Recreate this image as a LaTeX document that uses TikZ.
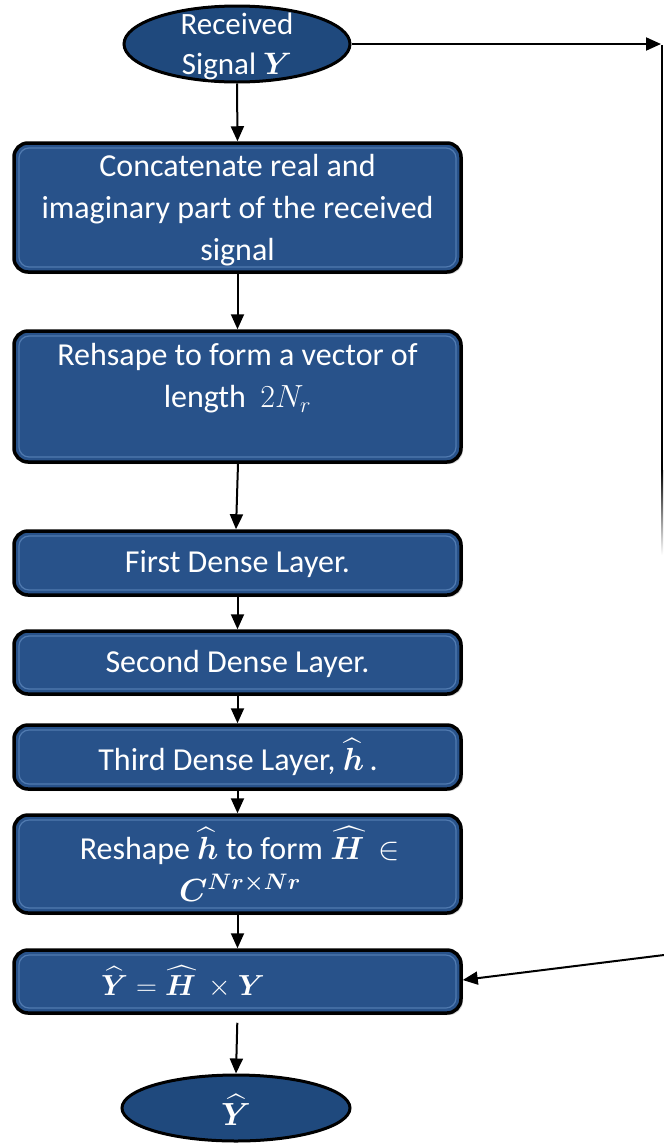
\RequirePackage{fix-cm}
\documentclass[tikz,border=0pt]{standalone}
\usepackage{amsmath,amssymb,bm}
\usepackage{fontspec}
\setmainfont{Carlito}
\usetikzlibrary{arrows.meta,shapes.geometric,shadows,fadings}

\definecolor{boxblue}{RGB}{40,82,138}
\definecolor{bevelblue}{RGB}{80,122,176}
\definecolor{ovalblue}{RGB}{31,73,125}

\tikzset{
  txt/.style={text=white,font=\fontsize{32}{42}\selectfont,align=center,inner sep=0pt},
  stepbox/.style={draw=black,line width=3.5pt,fill=boxblue,rounded corners=14pt,
    minimum width=447pt,inner sep=0pt,
    drop shadow={shadow xshift=2pt,shadow yshift=-2pt,opacity=0.35},
    path picture={\draw[bevelblue,line width=1.2pt,rounded corners=10pt]
      ([shift={(5pt,-5pt)}]path picture bounding box.north west) rectangle
      ([shift={(-5pt,5pt)}]path picture bounding box.south east);}},
  oval/.style={ellipse,draw=black,line width=3pt,fill=ovalblue,inner sep=0pt},
  conn/.style={draw=black,line width=2pt,-{Triangle[length=15pt,width=13pt]}},
  wire/.style={draw=black,line width=2pt}
}

\begin{document}
\begin{tikzpicture}[x=1pt,y=-1pt]
\useasboundingbox (0,0) rectangle (664,1144);

% terminals
\node[oval,minimum width=226pt,minimum height=76pt] (in) at (237,44) {};
\node[txt,font=\fontsize{31}{40}\selectfont] (intxt) at (237,46) {Received\\Signal $\bm{Y}$};

\node[oval,minimum width=228pt,minimum height=66pt] (out) at (236,1108) {};
\node[txt] (outtxt) at (236,1110) {$\bm{\widehat{Y}}$};

% processing steps
\node[stepbox,minimum height=129pt] (b1) at (237.5,207.5) {};
\node[txt] (t1) at (237.5,210) {Concatenate real and\\imaginary part of the received\\signal};

\node[stepbox,minimum height=131pt] (b2) at (237.5,396.5) {};
\node[txt] (t2) at (237.5,378) {Rehsape to form a vector of\\length\ \ $2N_r$};

\node[stepbox,minimum height=64pt] (b3) at (237.5,563) {};
\node[txt] (t3) at (237.5,564) {First Dense Layer.};

\node[stepbox,minimum height=63pt] (b4) at (237.5,662.5) {};
\node[txt] (t4) at (237.5,664) {Second Dense Layer.};

\node[stepbox,minimum height=64pt] (b5) at (237.5,757) {};
\node[txt] (t5) at (238,757) {Third Dense Layer, $\bm{\widehat{h}}$\,.};

\node[stepbox,minimum height=98pt] (b6) at (237.5,864) {};
\node[txt] (t6) at (240,864) {Reshape $\bm{\widehat{h}}$ to form $\bm{\widehat{H}}$\ \ $\in$\\$\bm{C^{Nr\times Nr}}$};

\node[stepbox,minimum height=63pt] (b7) at (237.5,981.5) {};
\node[txt,font=\fontsize{29}{40}\selectfont] (t7) at (183,982) {$\bm{\widehat{Y}} = \bm{\widehat{H}}\ \times \bm{Y}$};

% main flow
\draw[conn] (in.south) -- (b1.north);
\draw[conn] (b1.south) -- (b2.north);
\draw[conn] (b2.south -| 238,0) -- (b3.north -| 236,0);
\draw[conn] (b3) -- (b4);
\draw[conn] (b4) -- (b5);
\draw[conn] (b5) -- (b6);
\draw[conn] (b6) -- (b7);
\draw[conn,shorten <=8pt] (b7.south) -- (out.north);

% bypass of the received signal
\coordinate (tr) at (661,44);
\coordinate (vtop) at (662,45);
\coordinate (vmid) at (662,470);
\coordinate (br) at (664,955);
\draw[conn] (in.east) -- (tr);
\draw[wire] (vtop) -- (vmid);
\shade[top color=black,bottom color=white] (661,470) rectangle (663,555);
\draw[conn] (br) -- (b7.east |- 0,980);
\end{tikzpicture}
\end{document}
